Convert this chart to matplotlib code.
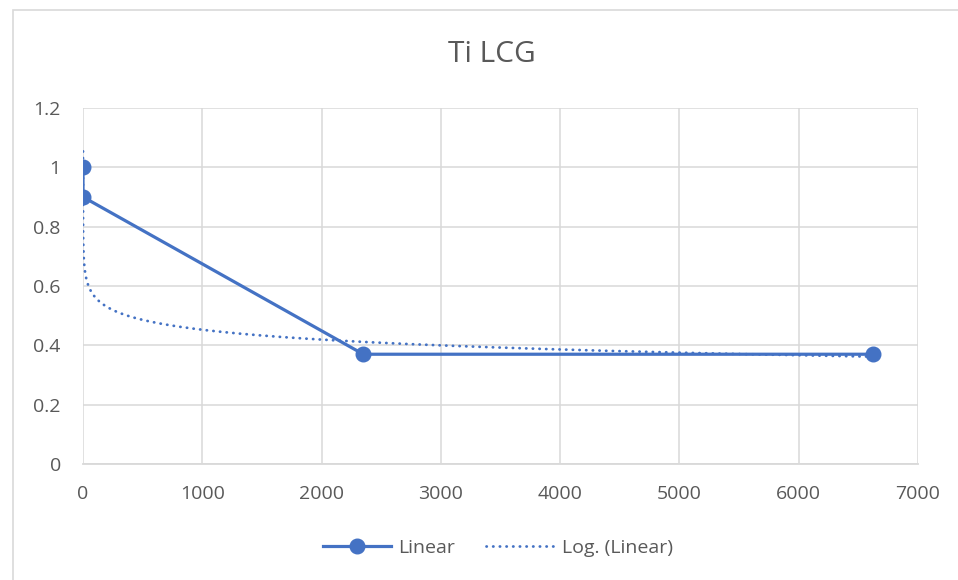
import numpy as np
import matplotlib
matplotlib.use("Agg")
import matplotlib.pyplot as plt
from matplotlib.patches import Rectangle

# data (first two points sit right next to x=0)
x_vals = [0.0036, 0.55, 2350, 6620]
y_vals = [1.0, 0.9, 0.37, 0.37]
x_ticks = [0, 1000, 2000, 3000, 4000, 5000, 6000, 7000]
y_ticks = [0, 0.2, 0.4, 0.6, 0.8, 1.0, 1.2]
y_labels = ["0", "0.2", "0.4", "0.6", "0.8", "1", "1.2"]
title = "Ti LCG"
series_name = "Linear"
trend_name = "Log. (Linear)"

blue = "#4472C4"
grid_c = "#D9D9D9"
text_c = "#595959"

plt.rcParams['font.family'] = ['Open Sans', 'DejaVu Sans']

W, H = 958, 580
fig = plt.figure(figsize=(W / 100, H / 100), dpi=100, facecolor='white')

# chart frame (runs off the right and bottom of the shot)
fig.patches.append(Rectangle((12.5 / W, -0.1), 2, (H - 10) / H + 0.1,
                             transform=fig.transFigure, fill=False,
                             edgecolor=grid_c, linewidth=1.2))

ax = fig.add_axes([83 / W, (H - 464) / H, 835 / W, 356 / H])

# logarithmic trendline fitted like Excel does
a, b = np.polyfit(np.log(x_vals), y_vals, 1)
xt = np.geomspace(min(x_vals), max(x_vals), 600)
ax.plot(xt, a * np.log(xt) + b, color=blue, linewidth=2.0,
        linestyle=(0, (0.1, 2.3)), dash_capstyle='round', zorder=2,
        label=trend_name)

ax.plot(x_vals, y_vals, color=blue, linewidth=2.3, marker='o',
        markersize=10.5, zorder=3, label=series_name)

ax.set_xlim(0, 7000)
ax.set_ylim(0, 1.2)
ax.set_xticks(x_ticks)
ax.set_yticks(y_ticks)
ax.set_yticklabels(y_labels)
ax.grid(True, color=grid_c, linewidth=1.1, zorder=0)
ax.set_axisbelow(True)
for s in ['top', 'right', 'left']:
    ax.spines[s].set_visible(False)
ax.spines['bottom'].set_color(grid_c)
ax.spines['bottom'].set_linewidth(1.3)
ax.tick_params(axis='both', length=0, labelsize=14, labelcolor=text_c)
ax.tick_params(axis='y', pad=16)
ax.tick_params(axis='x', pad=15)

fig.text(492 / W, 1 - 55 / H, title, ha='center', va='center',
         fontsize=21.5, color=text_c)

h, l = ax.get_legend_handles_labels()
leg = fig.legend(h[::-1], l[::-1], loc='center', ncol=2,
                 bbox_to_anchor=(498 / W, 1 - 548 / H), frameon=False,
                 fontsize=14, labelcolor=text_c, handlelength=3.5,
                 handletextpad=0.4, columnspacing=1.6)

fig.savefig("out.png", dpi=100, facecolor='white')
